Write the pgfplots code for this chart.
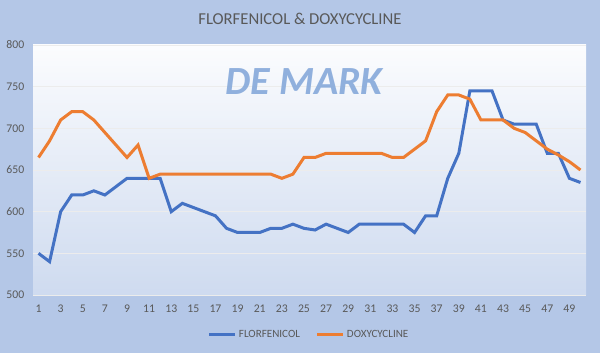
\documentclass[border=0pt]{standalone}
\usepackage{fontspec}
\setmainfont{Carlito}
\usepackage{pgfplots}
\pgfplotsset{compat=1.18}
\usetikzlibrary{shadings}
\definecolor{bgblue}{HTML}{B4C7E7}
\definecolor{serblue}{HTML}{4472C4}
\definecolor{serorange}{HTML}{ED7D31}
\definecolor{txtgray}{HTML}{595959}
\definecolor{logoblue}{HTML}{86A9DA}
\begin{document}
\begin{tikzpicture}[x=1pt,y=1pt]
\fill[bgblue] (0,0) rectangle (450,264.75);
\useasboundingbox (0,0) rectangle (450,264.75);
\node[text=txtgray, font=\fontsize{12.5}{15}\selectfont] at (225,250.5) {FLORFENICOL \& DOXYCYCLINE};
\begin{axis}[
  at={(24.75pt,43.5pt)}, anchor=south west,
  width=414.75pt, height=187.5pt, scale only axis,
  xmin=0.5, xmax=50.5, ymin=500, ymax=800,
  xtick={1,3,...,49}, ytick={500,550,...,800},
  axis line style={draw=none},
  major tick length=0pt,
  ymajorgrids, grid style={color=white!85!gray, line width=0.6pt},
  axis background/.style={shade, top color=white!95!bgblue, middle color=bgblue!92!blue!90!black, bottom color=bgblue!65!white, shading angle=0},
  ticklabel style={font=\fontsize{8.8}{10.5}\selectfont, text=txtgray},
  /pgf/number format/assume math mode=true,
  yticklabel style={xshift=-3pt},
  xticklabel style={yshift=-4pt},
  legend style={at={(axis description cs:0.5,-0.16)}, anchor=center, draw=none, fill=none, font=\fontsize{8.3}{10}\selectfont, text=txtgray, legend columns=2, /tikz/every even column/.append style={column sep=10pt}},
  legend image code/.code={\draw[#1, line width=2.25pt] (0pt,0pt) -- (19pt,0pt);},
]
\node[font=\fontsize{30}{30}\bfseries\itshape\selectfont, text=logoblue, opacity=0.9] at (axis cs:25,756) {DE MARK};
\addplot[serblue, line width=2.25pt] coordinates {
(1,550)(2,540)(3,600)(4,620)(5,620)(6,625)(7,620)(8,630)(9,640)(10,640)
(11,640)(12,640)(13,600)(14,610)(15,605)(16,600)(17,595)(18,580)(19,575)(20,575)
(21,575)(22,580)(23,580)(24,585)(25,580)(26,578)(27,585)(28,580)(29,575)(30,585)
(31,585)(32,585)(33,585)(34,585)(35,575)(36,595)(37,595)(38,640)(39,670)(40,745)
(41,745)(42,745)(43,710)(44,705)(45,705)(46,705)(47,670)(48,670)(49,640)(50,635)};
\addlegendentry{FLORFENICOL}
\addplot[serorange, line width=2.25pt] coordinates {
(1,665)(2,685)(3,710)(4,720)(5,720)(6,710)(7,695)(8,680)(9,665)(10,680)
(11,640)(12,645)(13,645)(14,645)(15,645)(16,645)(17,645)(18,645)(19,645)(20,645)
(21,645)(22,645)(23,640)(24,645)(25,665)(26,665)(27,670)(28,670)(29,670)(30,670)
(31,670)(32,670)(33,665)(34,665)(35,675)(36,685)(37,720)(38,740)(39,740)(40,735)
(41,710)(42,710)(43,710)(44,700)(45,695)(46,685)(47,675)(48,668)(49,660)(50,650)};
\addlegendentry{DOXYCYCLINE}
\end{axis}
\end{tikzpicture}
\end{document}
